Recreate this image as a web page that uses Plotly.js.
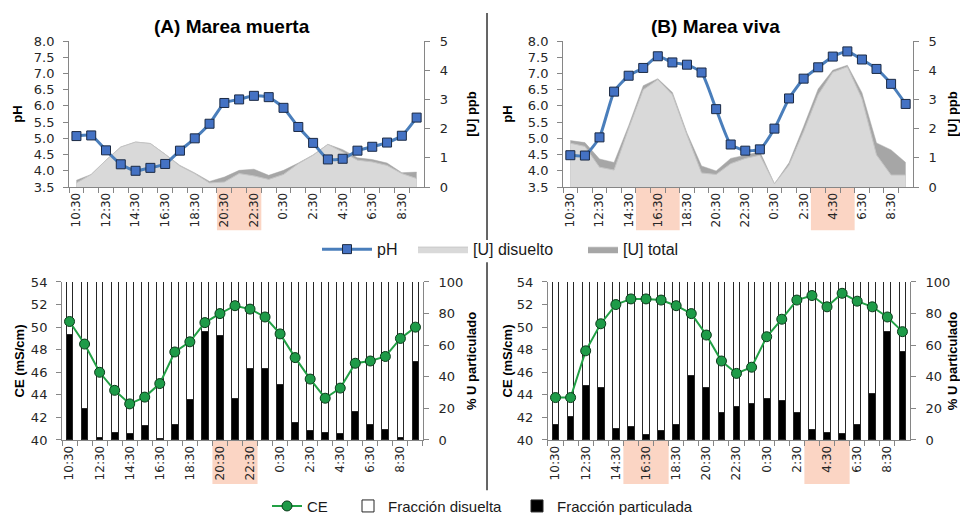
<!DOCTYPE html>
<html>
<head>
<meta charset="utf-8">
<script src="https://cdn.plot.ly/plotly-3.0.1.min.js"></script>
<style>
  html, body { margin: 0; padding: 0; background: #ffffff; }
  #chart { width: 960px; height: 516px; }
</style>
</head>
<body>
<div id="chart"></div>
<script>
// ---------- data ----------
const times = ["10:30","11:30","12:30","13:30","14:30","15:30","16:30","17:30","18:30","19:30","20:30","21:30",
               "22:30","23:30","0:30","1:30","2:30","3:30","4:30","5:30","6:30","7:30","8:30","9:30"];
const tickLabels = ["10:30","12:30","14:30","16:30","18:30","20:30","22:30","0:30","2:30","4:30","6:30","8:30"];

// (A) Marea muerta
const phA   = [5.07,5.09,4.63,4.20,4.00,4.09,4.21,4.62,5.00,5.45,6.09,6.20,6.31,6.27,5.94,5.35,4.86,4.35,4.37,4.62,4.74,4.87,5.08,5.64];
const uDisA = [0.14,0.43,0.92,1.37,1.54,1.49,1.12,0.72,0.46,0.14,0.17,0.46,0.38,0.26,0.43,0.80,1.09,1.46,1.20,0.92,0.86,0.74,0.46,0.29];
const uTotA = [0.23,0.43,0.92,1.37,1.54,1.49,1.12,0.74,0.48,0.19,0.34,0.57,0.61,0.40,0.57,0.82,1.10,1.46,1.28,1.00,0.94,0.82,0.49,0.51];
const ceA   = [50.5,48.5,46.0,44.4,43.2,43.8,45.0,47.8,48.7,50.4,51.2,51.9,51.6,50.9,49.4,47.3,45.4,43.7,44.6,46.8,47.0,47.4,49.0,50.0];
const partA = [66.6,19.7,1.5,4.7,4.2,8.9,1.1,9.9,25.4,68.7,66.2,26.4,45.2,45.2,35.3,11.2,5.7,4.7,4.2,18.0,9.9,6.8,1.5,49.5];
const highlightA = [["20:30","22:30"]];

// (B) Marea viva
const phB   = [4.48,4.47,5.03,6.44,6.93,7.17,7.53,7.34,7.27,7.03,5.90,4.81,4.62,4.66,5.30,6.23,6.84,7.19,7.52,7.68,7.43,7.14,6.68,6.06];
const uDisB = [1.50,1.39,0.68,0.58,2.00,3.33,3.68,3.16,1.78,0.48,0.43,0.80,0.98,1.09,0.11,0.75,1.90,3.16,3.93,4.12,3.02,1.10,0.41,0.41];
const uTotB = [1.59,1.52,0.96,0.84,2.10,3.47,3.71,3.24,1.85,0.72,0.55,0.98,1.09,1.21,0.11,0.83,2.07,3.36,4.00,4.17,3.23,1.51,1.27,0.84];
const ceB   = [43.76,43.76,47.9,50.3,52.0,52.5,52.5,52.4,51.9,51.2,49.3,47.0,45.9,46.45,49.15,50.7,52.4,52.8,51.8,53.0,52.3,51.8,50.9,49.6];
const partB = [9.9,14.8,34.2,33.2,7.0,8.5,3.2,5.9,10.1,41.0,33.0,17.5,21.1,23.3,26.0,24.9,17.5,6.8,4.7,4.0,10.1,29.2,68.7,56.2];
const highlightB = [["15:30","17:30"],["3:30","5:30"]];

// ---------- styles ----------
const AX = '#868686';
const XTICKFONT = {family: 'DejaVu Sans, Verdana, sans-serif', size: 12, color: '#262626'};
const YTICKFONT = {family: 'DejaVu Sans, Verdana, sans-serif', size: 13, color: '#262626'};
const TITLEFONT = {family: 'Liberation Sans, Arial, sans-serif', size: 13, color: '#000000'};
const BLUE_LINE = '#4A7EBB', BLUE_MK = '#4472C4';
const GREEN_LINE = '#22A045', GREEN_MK = '#1E9B48';
const LIGHT = '#D9D9D9', DARK = '#A6A6A6';
const PEACH = '#FBD5C4';

const dissolvedFrac = p => p.map(v => 100 - v);

function xAxis(domain, anchor) {
  return {
    type: 'category', domain: domain, anchor: anchor, range: [-0.5, times.length - 0.5],
    tickmode: 'array', tickvals: times,
    ticktext: times.map(t => tickLabels.includes(t) ? t : ''),
    tickson: 'boundaries', ticks: 'outside', ticklen: 5, tickcolor: AX, tickwidth: 1,
    showline: true, linecolor: AX, linewidth: 1, tickangle: -90,
    tickfont: XTICKFONT, showgrid: false, zeroline: false, fixedrange: true, automargin: false
  };
}
function yAxis(o) {
  return Object.assign({
    ticks: 'outside', ticklen: 5, tickcolor: AX, showline: true, linecolor: AX, linewidth: 1,
    tickfont: YTICKFONT, showgrid: false, zeroline: false, fixedrange: true, automargin: false
  }, o);
}

const domTop = [0.6376, 0.9205], domBot = [0.1473, 0.4535];
const dTL = [0.0719, 0.4417], dTR = [0.5865, 0.9510], dBL = [0.0646, 0.4406], dBR = [0.5708, 0.9479];

function uTraces(tot, dis, xa, ya, show) {
  return [
    {type: 'scatter', x: times, y: tot, xaxis: xa, yaxis: ya, mode: 'lines', fill: 'tozeroy',
     fillcolor: DARK, line: {color: DARK, width: 0.5}, name: '[U] total',
     showlegend: show, legend: 'legend4', hoverinfo: 'skip'},
    {type: 'scatter', x: times, y: dis, xaxis: xa, yaxis: ya, mode: 'lines', fill: 'tozeroy',
     fillcolor: LIGHT, line: {color: '#C4C4C4', width: 1}, name: '[U] disuelto',
     showlegend: show, legend: 'legend3', hoverinfo: 'skip'}
  ];
}
function phTrace(ph, xa, ya, show) {
  return {type: 'scatter', x: times, y: ph, xaxis: xa, yaxis: ya, mode: 'lines+markers',
    line: {color: BLUE_LINE, width: 3, shape: 'spline', smoothing: 0.5},
    marker: {symbol: 'square', size: 9, color: BLUE_MK, line: {color: '#1B2A44', width: 1}},
    name: 'pH', showlegend: show, legend: 'legend'};
}
function barTraces(part, xa, ya, show) {
  return [
    {type: 'bar', x: times, y: part, xaxis: xa, yaxis: ya, width: 0.45,
     marker: {color: '#000000', line: {color: '#262626', width: 1}},
     name: 'Fracción particulada', showlegend: show, legend: 'legend6'},
    {type: 'bar', x: times, y: dissolvedFrac(part), xaxis: xa, yaxis: ya, width: 0.45,
     marker: {color: '#FFFFFF', line: {color: '#262626', width: 1}},
     name: 'Fracción disuelta', showlegend: show, legend: 'legend5'}
  ];
}
function ceTrace(ce, xa, ya, show) {
  return {type: 'scatter', x: times, y: ce, xaxis: xa, yaxis: ya, mode: 'lines+markers',
    line: {color: GREEN_LINE, width: 2},
    marker: {symbol: 'circle', size: 10, color: GREEN_MK, line: {color: '#0B3B1A', width: 1}},
    name: 'CE', showlegend: show, legend: 'legend2'};
}

const data = [].concat(
  uTraces(uTotA, uDisA, 'x', 'y', true), [phTrace(phA, 'x', 'y2', true)],
  uTraces(uTotB, uDisB, 'x2', 'y3', false), [phTrace(phB, 'x2', 'y4', false)],
  barTraces(partA, 'x3', 'y5', true), [ceTrace(ceA, 'x3', 'y6', true)],
  barTraces(partB, 'x4', 'y7', false), [ceTrace(ceB, 'x4', 'y8', false)]
);

// highlight shapes under x tick labels
function highlights(list, xref, y0, y1) {
  return list.map(([a, b]) => ({
    type: 'rect', xref: xref, yref: 'paper',
    x0: times.indexOf(a) - 0.5, x1: times.indexOf(b) + 0.5, y0: y0, y1: y1,
    fillcolor: PEACH, line: {width: 0}, layer: 'below'
  }));
}
const shapes = [].concat(
  highlights(highlightA, 'x', 0.554, domTop[0]),
  highlights(highlightB, 'x2', 0.554, domTop[0]),
  highlights(highlightA, 'x3', 0.062, domBot[0]),
  highlights(highlightB, 'x4', 0.062, domBot[0]),
  [
    {type: 'line', xref: 'paper', yref: 'paper', x0: 0.5073, x1: 0.5073, y0: 0.975, y1: 0.535, line: {color: '#333333', width: 1.5}},
    {type: 'line', xref: 'paper', yref: 'paper', x0: 0.5073, x1: 0.5073, y0: 0.492, y1: 0.050, line: {color: '#333333', width: 1.5}}
  ]
);

const tt = (text, standoff) => ({text: text, font: TITLEFONT, standoff: standoff});
const bold = s => '<b>' + s + '</b>';
const LEGFONT_TOP = {family: 'Liberation Sans, Arial, sans-serif', size: 16, color: '#1a1a1a'};
const LEGFONT_BOT = {family: 'Liberation Sans, Arial, sans-serif', size: 15, color: '#1a1a1a'};
function leg(xpx, y, font, iw) {
  return {orientation: 'h', x: xpx / 960, xanchor: 'left', y: y, yanchor: 'middle',
          font: font, bgcolor: 'rgba(0,0,0,0)', itemwidth: iw, borderwidth: 0};
}

const layout = {
  width: 960, height: 516, margin: {l: 0, r: 0, t: 0, b: 0, autoexpand: false},
  paper_bgcolor: '#ffffff', plot_bgcolor: 'rgba(0,0,0,0)',
  barmode: 'stack',
  font: {family: 'Liberation Sans, Arial, sans-serif', color: '#000'},
  xaxis: xAxis(dTL, 'y'),
  xaxis2: xAxis(dTR, 'y3'),
  xaxis3: xAxis(dBL, 'y5'),
  xaxis4: xAxis(dBR, 'y7'),
  yaxis:  yAxis({domain: domTop, anchor: 'x', side: 'right', range: [0, 5], dtick: 1, ticklabelstandoff: 7, title: tt(bold('[U] ppb'), 19)}),
  yaxis2: yAxis({domain: domTop, anchor: 'x', side: 'left', overlaying: 'y', range: [3.5, 8], dtick: 0.5, tickformat: '.1f', ticklabelstandoff: 6, title: tt(bold('pH'), 8)}),
  yaxis3: yAxis({domain: domTop, anchor: 'x2', side: 'right', range: [0, 5], dtick: 1, ticklabelstandoff: 7, title: tt(bold('[U] ppb'), 16)}),
  yaxis4: yAxis({domain: domTop, anchor: 'x2', side: 'left', overlaying: 'y3', range: [3.5, 8], dtick: 0.5, tickformat: '.1f', ticklabelstandoff: 6, title: tt(bold('pH'), 12)}),
  yaxis5: yAxis({domain: domBot, anchor: 'x3', side: 'right', range: [0, 100], dtick: 20, ticklabelstandoff: 7, title: tt(bold('% U particulado'), 4)}),
  yaxis6: yAxis({domain: domBot, anchor: 'x3', side: 'left', overlaying: 'y5', range: [40, 54], dtick: 2, ticklabelstandoff: 6, title: tt(bold('CE (mS/cm)'), 3)}),
  yaxis7: yAxis({domain: domBot, anchor: 'x4', side: 'right', range: [0, 100], dtick: 20, ticklabelstandoff: 7, title: tt(bold('% U particulado'), 1)}),
  yaxis8: yAxis({domain: domBot, anchor: 'x4', side: 'left', overlaying: 'y7', range: [40, 54], dtick: 2, ticklabelstandoff: 6, title: tt(bold('CE (mS/cm)'), 1)}),
  shapes: shapes,
  annotations: [
    {text: '<b>(A) Marea muerta</b>', xref: 'paper', yref: 'paper', x: 0.2417, y: 0.9496, showarrow: false,
     xanchor: 'center', yanchor: 'middle', font: {family: 'Liberation Sans, Arial, sans-serif', size: 19, color: '#000'}},
    {text: '<b>(B) Marea viva</b>', xref: 'paper', yref: 'paper', x: 0.7458, y: 0.9496, showarrow: false,
     xanchor: 'center', yanchor: 'middle', font: {family: 'Liberation Sans, Arial, sans-serif', size: 19, color: '#000'}}
  ],
  legend:  leg(317, 0.517, LEGFONT_TOP, 50),
  legend3: leg(413, 0.517, LEGFONT_TOP, 50),
  legend4: leg(583, 0.517, LEGFONT_TOP, 30),
  legend2: leg(267, 0.019, LEGFONT_BOT, 30),
  legend5: leg(348, 0.019, LEGFONT_BOT, 30),
  legend6: leg(517, 0.019, LEGFONT_BOT, 30),
  showlegend: true
};

Plotly.newPlot('chart', data, layout, {staticPlot: true, displayModeBar: false});
</script>
</body>
</html>
